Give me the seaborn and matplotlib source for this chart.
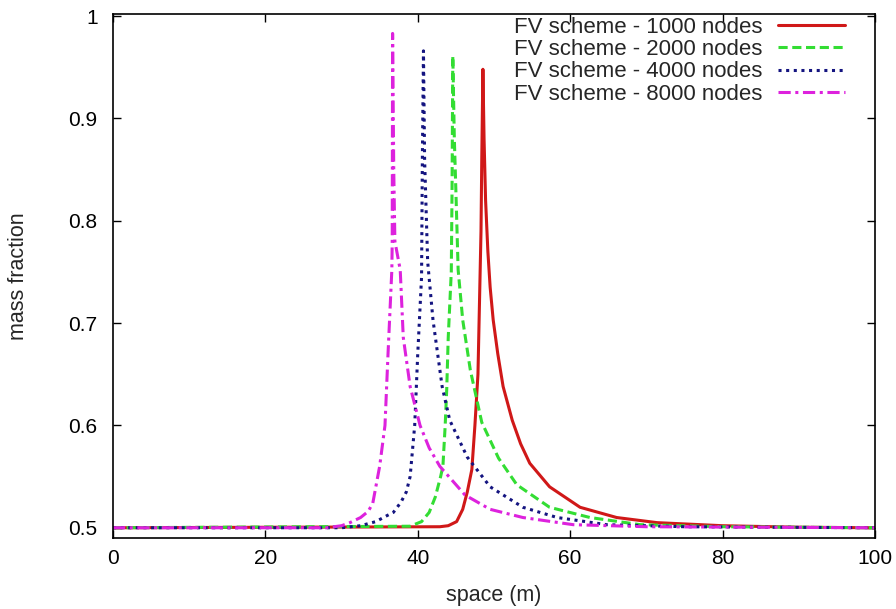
import numpy as np
import pandas as pd
import seaborn as sns
import matplotlib.pyplot as plt
from matplotlib.ticker import FormatStrFormatter

# values (rising side, spike, then the long tail)
x_1000 = [0, 42.9, 44.0, 45.1, 45.9, 46.5, 47.1, 47.5, 47.9, 48.1, 48.3, 48.4, 48.55, 48.7,
          48.9, 49.2, 49.5, 49.9, 50.5, 51.2, 52.4, 53.5, 54.7, 57.3, 61.3, 66.1, 71.4, 80,
          90, 100]
y_1000 = [0.5, 0.501, 0.502, 0.506, 0.518, 0.535, 0.557, 0.6, 0.65, 0.72, 0.79, 0.86, 0.948,
          0.88, 0.82, 0.77, 0.735, 0.703, 0.67, 0.638, 0.605, 0.582, 0.563, 0.54, 0.52, 0.51,
          0.505, 0.502, 0.5005, 0.5]

x_2000 = [0, 39, 40.5, 41.5, 42.3, 43.0, 43.3, 43.6, 43.8, 44.0, 44.4, 44.5, 44.6, 44.8, 45.0,
          45.3, 45.9, 46.9, 48.4, 50.6, 53.0, 57.3, 62.6, 69.2, 80, 100]
y_2000 = [0.5, 0.5015, 0.506, 0.515, 0.53, 0.55, 0.56, 0.6, 0.635, 0.686, 0.75, 0.83, 0.961,
          0.88, 0.83, 0.752, 0.703, 0.654, 0.603, 0.568, 0.542, 0.52, 0.51, 0.503, 0.501, 0.5]

x_4000 = [0, 30, 32.5, 34.5, 36.0, 36.8, 37.8, 38.5, 39.0, 39.6, 40.0, 40.5, 40.6, 40.75, 40.9,
          41.3, 42.0, 43.2, 44.2, 46.5, 49.5, 53.8, 58.3, 64.8, 75, 100]
y_4000 = [0.5, 0.5, 0.502, 0.506, 0.512, 0.515, 0.525, 0.535, 0.55, 0.6, 0.67, 0.745, 0.856,
          0.966, 0.86, 0.76, 0.703, 0.638, 0.605, 0.569, 0.54, 0.52, 0.51, 0.503, 0.501, 0.5]

x_8000 = [0, 28, 30, 31.1, 32.5, 33.5, 34.1, 35.0, 35.7, 36.1, 36.6, 36.65, 36.7, 36.85, 37.0,
          37.7, 38.1, 39.0, 40.3, 41.5, 42.9, 46.2, 49.5, 53.8, 60.4, 70, 100]
y_8000 = [0.5, 0.5, 0.502, 0.505, 0.51, 0.516, 0.524, 0.56, 0.6, 0.67, 0.752, 0.78, 0.983,
          0.85, 0.78, 0.752, 0.686, 0.638, 0.6, 0.578, 0.56, 0.532, 0.518, 0.51, 0.503, 0.501,
          0.5]

labels = ["FV scheme - 1000 nodes", "FV scheme - 2000 nodes",
          "FV scheme - 4000 nodes", "FV scheme - 8000 nodes"]
xs = [x_1000, x_2000, x_4000, x_8000]
ys = [y_1000, y_2000, y_4000, y_8000]
colors = ["#d01818", "#33dd33", "#141480", "#dd22dd"]
styles = ["-", (0, (3, 1.5)), (0, (1, 1.5)), (0, (4, 1.5, 1, 1.5))]

sns.set_style("ticks")
plt.rcParams['font.family'] = ['Liberation Sans', 'DejaVu Sans']

fig = plt.figure(figsize=(8.96, 6.09), dpi=100)
ax = fig.add_axes([0.126, 0.1166, 0.8506, 0.8604])

for x, y, lab, c, ls in zip(xs, ys, labels, colors, styles):
    df = pd.DataFrame({"x": x, "y": y})
    sns.lineplot(data=df, x="x", y="y", color=c, linestyle=ls, linewidth=2.2,
                 label=lab, ax=ax, estimator=None, sort=False)

ax.set_xlim(0, 100)
ax.set_ylim(0.49, 1.002)
ax.set_xticks(np.arange(0, 101, 20))
ax.set_yticks([0.5, 0.6, 0.7, 0.8, 0.9, 1.0])
ax.yaxis.set_major_formatter(FormatStrFormatter('%g'))
ax.tick_params(direction='in', length=6, width=1, top=True, right=True,
               labelsize=15, colors='black')
ax.tick_params(axis='y', pad=11)
ax.tick_params(axis='x', pad=8)
for s in ax.spines.values():
    s.set_linewidth(1.2)
    s.set_color('black')

ax.set_xlabel("space (m)", fontsize=15.5)
ax.set_ylabel("mass fraction", fontsize=15.5)
ax.xaxis.set_label_coords(0.5, -0.09)
ax.yaxis.set_label_coords(-0.11, 0.5)

leg = ax.legend(loc='upper right', bbox_to_anchor=(0.9606, 0.995), markerfirst=False,
                frameon=False, fontsize=16, handlelength=3.0, labelspacing=0.06,
                borderaxespad=0, borderpad=0, handletextpad=0.7)

fig.savefig("out.png", dpi=100)
